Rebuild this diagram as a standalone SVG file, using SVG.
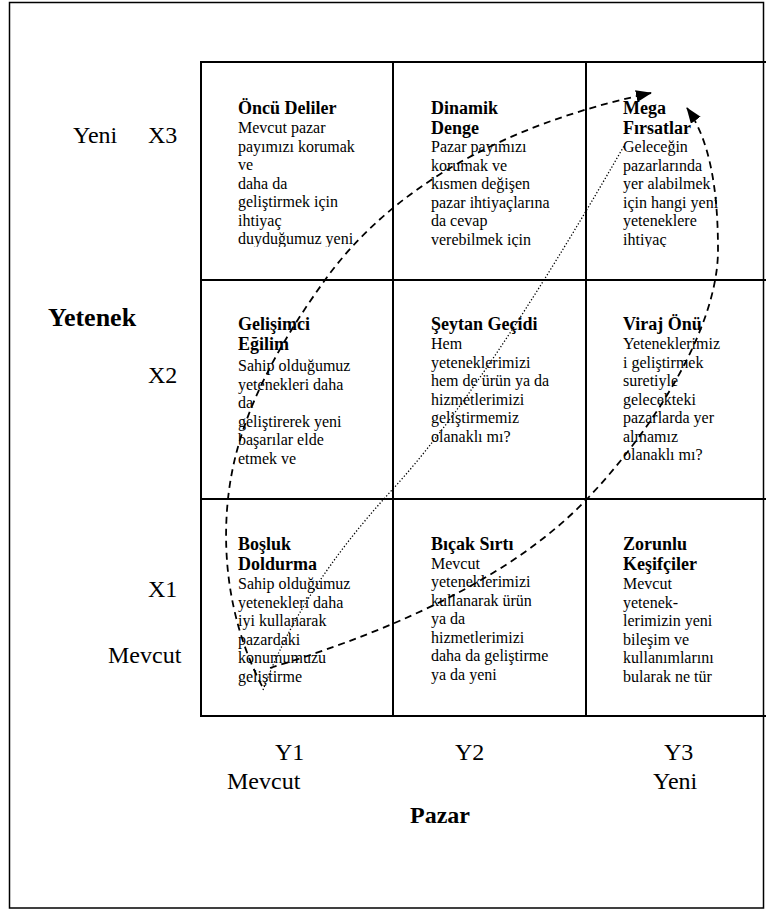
<svg xmlns="http://www.w3.org/2000/svg" width="766" height="914" viewBox="0 0 766 914">
<style>
text{font-family:"Liberation Serif","Times New Roman",serif;fill:#000}
.t{font-size:18px;font-weight:bold}
.b{font-size:16px}
.ax{font-size:24px}
.axb{font-size:24px;font-weight:bold}
.grid{fill:none;stroke:#000;stroke-width:2}
.dash{fill:none;stroke:#000;stroke-width:1.8;stroke-dasharray:7 5}
.dot{fill:none;stroke:#000;stroke-width:1.3;stroke-dasharray:1.3 2}
</style>
<defs>
<marker id="ah" markerUnits="userSpaceOnUse" markerWidth="16" markerHeight="12" refX="15" refY="6" orient="auto">
<path d="M0,0 L16,6 L0,12 z" fill="#000"/>
</marker>
<clipPath id="r1"><rect x="201" y="62" width="576" height="185"/></clipPath>
<clipPath id="r2"><rect x="201" y="280" width="576" height="186"/></clipPath>
<clipPath id="r3"><rect x="201" y="499" width="576" height="187"/></clipPath>
</defs>
<rect x="9.5" y="2.5" width="754" height="905.5" fill="#fff" stroke="#000" stroke-width="1.5"/>
<g id="grid">
<rect class="grid" x="201" y="62" width="576" height="654"/>
<line class="grid" x1="393" y1="62" x2="393" y2="716"/>
<line class="grid" x1="586" y1="62" x2="586" y2="716"/>
<line class="grid" x1="201" y1="280" x2="777" y2="280"/>
<line class="grid" x1="201" y1="499" x2="777" y2="499"/>
</g>
<g id="axis-labels">
<text class="ax" x="73" y="143">Yeni</text>
<text class="ax" x="148" y="143">X3</text>
<text class="axb" x="48" y="326" style="font-size:26px">Yetenek</text>
<text class="ax" x="148" y="383">X2</text>
<text class="ax" x="148" y="597">X1</text>
<text class="ax" x="108" y="663">Mevcut</text>
<text class="ax" x="275" y="760">Y1</text>
<text class="ax" x="227" y="789">Mevcut</text>
<text class="ax" x="455" y="760">Y2</text>
<text class="ax" x="664" y="760">Y3</text>
<text class="ax" x="653" y="789">Yeni</text>
<text class="axb" x="410" y="823">Pazar</text>
</g>
<g id="oncu-deliler" clip-path="url(#r1)">
<text class="t" x="238" y="114">Öncü Deliler</text>
<text class="b" x="238" y="133">Mevcut pazar</text>
<text class="b" x="238" y="151.5">payımızı korumak</text>
<text class="b" x="238" y="170">ve</text>
<text class="b" x="238" y="188.5">daha da</text>
<text class="b" x="238" y="207">geliştirmek için</text>
<text class="b" x="238" y="225.5">ihtiyaç</text>
<text class="b" x="238" y="244">duyduğumuz yeni</text>
</g>
<g id="dinamik-denge" clip-path="url(#r1)">
<text class="t" x="431" y="114">Dinamik</text>
<text class="t" x="431" y="134">Denge</text>
<text class="b" x="431" y="152">Pazar payımızı</text>
<text class="b" x="431" y="170.5">korumak ve</text>
<text class="b" x="431" y="189">kısmen değişen</text>
<text class="b" x="431" y="207.5">pazar ihtiyaçlarına</text>
<text class="b" x="431" y="226">da cevap</text>
<text class="b" x="431" y="244.5">verebilmek için</text>
</g>
<g id="mega-firsatlar" clip-path="url(#r1)">
<text class="t" x="623" y="114">Mega</text>
<text class="t" x="623" y="134">Fırsatlar</text>
<text class="b" x="623" y="152">Geleceğin</text>
<text class="b" x="623" y="170.5">pazarlarında</text>
<text class="b" x="623" y="189">yer alabilmek</text>
<text class="b" x="623" y="207.5">için hangi yeni</text>
<text class="b" x="623" y="226">yeteneklere</text>
<text class="b" x="623" y="244.5">ihtiyaç</text>
</g>
<g id="gelisimci-egilim" clip-path="url(#r2)">
<text class="t" x="238" y="330">Gelişimci</text>
<text class="t" x="238" y="350">Eğilim</text>
<text class="b" x="238" y="371">Sahip olduğumuz</text>
<text class="b" x="238" y="389.5">yetenekleri daha</text>
<text class="b" x="238" y="408">da</text>
<text class="b" x="238" y="426.5">geliştirerek yeni</text>
<text class="b" x="238" y="445">başarılar elde</text>
<text class="b" x="238" y="463.5">etmek ve</text>
</g>
<g id="seytan-gecidi" clip-path="url(#r2)">
<text class="t" x="431" y="330">Şeytan Geçidi</text>
<text class="b" x="431" y="349">Hem</text>
<text class="b" x="431" y="367.5">yeteneklerimizi</text>
<text class="b" x="431" y="386">hem de ürün ya da</text>
<text class="b" x="431" y="404.5">hizmetlerimizi</text>
<text class="b" x="431" y="423">geliştirmemiz</text>
<text class="b" x="431" y="441.5">olanaklı mı?</text>
</g>
<g id="viraj-onu" clip-path="url(#r2)">
<text class="t" x="623" y="330">Viraj Önü</text>
<text class="b" x="623" y="349">Yeteneklerimiz</text>
<text class="b" x="623" y="367.5">i geliştirmek</text>
<text class="b" x="623" y="386">suretiyle</text>
<text class="b" x="623" y="404.5">gelecekteki</text>
<text class="b" x="623" y="423">pazarlarda yer</text>
<text class="b" x="623" y="441.5">almamız</text>
<text class="b" x="623" y="460">olanaklı mı?</text>
</g>
<g id="bosluk-doldurma" clip-path="url(#r3)">
<text class="t" x="238" y="550">Boşluk</text>
<text class="t" x="238" y="570">Doldurma</text>
<text class="b" x="238" y="589">Sahip olduğumuz</text>
<text class="b" x="238" y="607.5">yetenekleri daha</text>
<text class="b" x="238" y="626">iyi kullanarak</text>
<text class="b" x="238" y="644.5">pazardaki</text>
<text class="b" x="238" y="663">konumumuzu</text>
<text class="b" x="238" y="681.5">geliştirme</text>
</g>
<g id="bicak-sirti" clip-path="url(#r3)">
<text class="t" x="431" y="550">Bıçak Sırtı</text>
<text class="b" x="431" y="568.5">Mevcut</text>
<text class="b" x="431" y="587">yeteneklerimizi</text>
<text class="b" x="431" y="605.5">kullanarak ürün</text>
<text class="b" x="431" y="624">ya da</text>
<text class="b" x="431" y="642.5">hizmetlerimizi</text>
<text class="b" x="431" y="661">daha da geliştirme</text>
<text class="b" x="431" y="679.5">ya da yeni</text>
</g>
<g id="zorunlu-kesifciler" clip-path="url(#r3)">
<text class="t" x="623" y="550">Zorunlu</text>
<text class="t" x="623" y="570">Keşifçiler</text>
<text class="b" x="623" y="589">Mevcut</text>
<text class="b" x="623" y="607.5">yetenek-</text>
<text class="b" x="623" y="626">lerimizin yeni</text>
<text class="b" x="623" y="644.5">bileşim ve</text>
<text class="b" x="623" y="663">kullanımlarını</text>
<text class="b" x="623" y="681.5">bularak ne tür</text>
</g>
<g id="connectors">
<path class="dash" d="M262,686 C238,640 222,580 227,510 C232,440 260,370 325,280 C390,190 500,125 651,93" marker-end="url(#ah)"/>
<path class="dash" d="M270,668 C360,640 500,590 587,499 C650,433 718,330 718,250 C718,190 710,140 687,108" marker-end="url(#ah)"/>
<path class="dot" d="M263,690 Q300,590 392,490 T624,146"/>
</g>
</svg>
